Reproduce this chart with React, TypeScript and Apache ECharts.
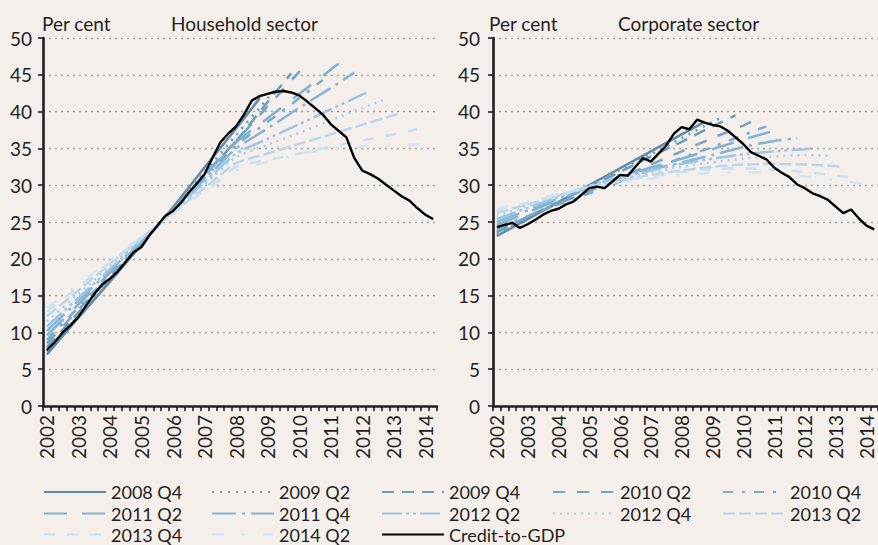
import React, { useEffect, useRef } from "react";
import * as echarts from "echarts";

// ---------- categories ----------
const quarters: string[] = [];
for (let y = 2002; y <= 2014; y++) {
  for (let q = 1; q <= 4; q++) {
    if (quarters.length < 50) quarters.push(`${y} Q${q}`);
  }
}

// ---------- vintages (trend estimates) ----------
const vintageNames = [
  "2008 Q4", "2009 Q2", "2009 Q4", "2010 Q2", "2010 Q4", "2011 Q2",
  "2011 Q4", "2012 Q2", "2012 Q4", "2013 Q2", "2013 Q4", "2014 Q2",
];
const vintageColors = [
  "#5E8CA8", "#6A99B8", "#6C9CBC", "#74A5C7", "#79AACB", "#7FB1D4",
  "#84B5D8", "#9CC5E2", "#AACFE8", "#B8D7EC", "#C8E0F0", "#D2E5F2",
];
const vintageDashes: (string | number[])[] = [
  "solid", [2, 6], [12, 8], [12, 12], [10, 9, 3, 9], [23, 15],
  [24, 6, 3, 6], [20, 4, 3, 4, 3, 4], [2, 5], [12, 4], [11, 12], [12, 18, 3, 18],
];

// Household sector: values at Q1 of each year from 2002, last value at the vintage quarter
const hh2008Q4 = [7.0, 12.0, 16.9, 21.9, 27.0, 32.4, 37.7, 41.8];
const hh2009Q2 = [7.4, 12.3, 17.1, 22.0, 26.9, 31.8, 36.8, 41.8, 43.0];
const hh2009Q4 = [8.0, 12.7, 17.4, 22.1, 26.7, 31.4, 36.0, 41.3, 45.2];
const hh2010Q2 = [8.5, 13.1, 17.6, 22.2, 26.7, 31.4, 36.0, 40.7, 45.4, 46.6];
const hh2010Q4 = [9.0, 13.4, 17.8, 22.2, 26.6, 31.0, 35.4, 38.6, 41.8, 44.3];
const hh2011Q2 = [9.6, 13.8, 18.1, 22.3, 26.7, 31.3, 35.8, 39.1, 42.4, 45.7, 46.5];
const hh2011Q4 = [10.2, 14.3, 18.4, 22.4, 26.6, 30.8, 35.0, 37.7, 40.5, 43.2, 45.3];
const hh2012Q2 = [10.8, 14.7, 18.6, 22.6, 26.5, 30.4, 34.3, 36.3, 38.3, 40.3, 42.3, 42.8];
const hh2012Q4 = [11.5, 15.2, 19.0, 22.7, 26.4, 30.1, 33.8, 35.5, 37.1, 38.8, 40.5, 41.7];
const hh2013Q2 = [12.2, 15.7, 19.3, 22.8, 26.3, 29.6, 33.0, 34.3, 35.6, 36.9, 38.2, 39.5, 39.8];
const hh2013Q4 = [12.8, 16.2, 19.5, 22.9, 26.2, 29.3, 32.5, 33.4, 34.3, 35.2, 36.1, 36.9, 37.6];
const hh2014Q2 = [13.3, 16.5, 19.8, 23.0, 26.1, 29.1, 32.0, 33.2, 34.2, 34.9, 35.3, 35.5, 35.5, 35.5];

// Corporate sector
const co2008Q4 = [23.1, 25.4, 27.7, 30.0, 32.3, 34.6, 36.9, 38.6];
const co2009Q2 = [23.4, 25.6, 27.7, 29.9, 32.1, 34.2, 36.4, 38.6, 39.1];
const co2009Q4 = [23.6, 25.7, 27.7, 29.8, 31.8, 33.9, 35.9, 38.0, 39.5];
const co2010Q2 = [23.9, 25.7, 27.5, 29.2, 31.0, 32.8, 34.6, 36.4, 38.1, 38.6];
const co2010Q4 = [24.2, 25.8, 27.4, 28.9, 30.5, 32.1, 33.7, 35.2, 36.8, 38.0];
const co2011Q2 = [24.6, 26.3, 28.0, 29.8, 31.1, 32.4, 33.6, 34.9, 36.2, 37.4, 37.7];
const co2011Q4 = [25.0, 26.6, 28.2, 29.8, 31.0, 32.1, 33.1, 34.1, 35.2, 36.0, 36.4];
const co2012Q2 = [25.4, 26.9, 28.4, 29.9, 31.0, 32.0, 32.9, 33.6, 34.2, 34.6, 34.9, 35.0];
const co2012Q4 = [25.8, 27.2, 28.6, 29.9, 30.8, 31.7, 32.5, 33.1, 33.6, 33.9, 34.1, 34.0];
const co2013Q2 = [26.2, 27.4, 28.6, 29.8, 30.6, 31.4, 32.0, 32.5, 32.8, 32.9, 32.8, 32.6, 32.5];
const co2013Q4 = [26.5, 27.6, 28.7, 29.7, 30.5, 31.2, 31.8, 32.2, 32.3, 32.1, 31.8, 31.3, 31.0];
const co2014Q2 = [26.8, 27.8, 28.8, 29.6, 30.3, 30.9, 31.4, 31.7, 31.8, 31.6, 31.2, 30.7, 30.1, 30.0];

// Credit-to-GDP ratios (quarterly, 2002 Q1 - 2014 Q2)
const hhCredit = [
  7.6, 8.7, 10.0, 11.0, 12.1, 13.7, 15.2, 16.5, 17.3, 18.3,
  19.6, 20.9, 21.6, 23.2, 24.5, 25.8, 26.5, 27.6, 29.0, 30.2,
  31.5, 33.7, 35.8, 37.0, 38.0, 39.6, 41.5, 42.1, 42.4, 42.7,
  42.8, 42.6, 42.2, 41.4, 40.5, 39.6, 38.3, 37.4, 36.5, 33.7,
  32.0, 31.5, 30.9, 30.1, 29.3, 28.5, 27.9, 26.9, 26.0, 25.4,
];
const coCredit = [
  24.3, 24.6, 24.9, 24.2, 24.7, 25.3, 26.0, 26.5, 26.8, 27.4,
  27.8, 28.7, 29.6, 29.8, 29.6, 30.5, 31.4, 31.3, 32.5, 33.7,
  33.2, 34.3, 35.4, 37.0, 37.9, 37.6, 38.9, 38.5, 38.2, 38.0,
  37.4, 36.5, 35.6, 34.5, 34.0, 33.5, 32.4, 31.7, 31.1, 30.1,
  29.6, 28.9, 28.5, 28.0, 27.1, 26.2, 26.7, 25.5, 24.5, 24.0,
];

const hhVintages = [hh2008Q4, hh2009Q2, hh2009Q4, hh2010Q2, hh2010Q4, hh2011Q2, hh2011Q4, hh2012Q2, hh2012Q4, hh2013Q2, hh2013Q4, hh2014Q2];
const coVintages = [co2008Q4, co2009Q2, co2009Q4, co2010Q2, co2010Q4, co2011Q2, co2011Q4, co2012Q2, co2012Q4, co2013Q2, co2013Q4, co2014Q2];

const panelTitles = ["Household sector", "Corporate sector"];
const yTicks = [0, 50, 5];
const legendRows = [
  ["2008 Q4", "2009 Q2", "2009 Q4", "2010 Q2", "2010 Q4"],
  ["2011 Q2", "2011 Q4", "2012 Q2", "2012 Q4", "2013 Q2"],
  ["2013 Q4", "2014 Q2", "Credit-to-GDP"],
];

const ink = "#231F20";
const font = "Lato, 'Open Sans', sans-serif";

function toPoints(vals: number[], vintage: string) {
  const pts: [number, number][] = vals.slice(0, -1).map((v, k) => [k * 4, v]);
  pts.push([quarters.indexOf(vintage), vals[vals.length - 1]]);
  return pts;
}

export default function App() {
  const ref = useRef<HTMLDivElement>(null);

  useEffect(() => {
    if (!ref.current) return;
    const chart = echarts.init(ref.current, undefined, { renderer: "svg" });

    const grids = [
      { left: 43, top: 38, width: 394, height: 368 },
      { left: 493, top: 38, width: 394, height: 368 },
    ];
    const labelMargins = [11, 13];

    const series: any[] = [];
    [hhVintages, coVintages].forEach((set, p) => {
      set.forEach((vals, k) => {
        series.push({
          type: "line",
          name: vintageNames[k],
          xAxisIndex: p,
          yAxisIndex: p,
          data: toPoints(vals, vintageNames[k]),
          symbol: "none",
          smooth: 0.2,
          itemStyle: { color: vintageColors[k] },
          lineStyle: { color: vintageColors[k], width: 2.5, type: vintageDashes[k], cap: "butt" },
          z: 2,
        });
      });
      series.push({
        type: "line",
        name: "Credit-to-GDP",
        xAxisIndex: p,
        yAxisIndex: p,
        data: (p === 0 ? hhCredit : coCredit).map((v, i) => [i, v]),
        symbol: "none",
        itemStyle: { color: "#000000" },
        lineStyle: { color: "#000000", width: 2.4 },
        z: 3,
      });
    });

    const colLeft = [43, 211, 381, 552, 722];
    const rowMid = [492, 513.5, 534.5];
    const legends: any[] = [];
    legendRows.forEach((row, r) =>
      row.forEach((name, c) => {
        legends.push({
          data: [name],
          left: colLeft[c],
          top: rowMid[r] - 10,
          itemWidth: 62,
          itemHeight: 20,
          padding: 0,
          selectedMode: false,
          itemStyle: { opacity: 0 },
          textStyle: { fontSize: 18, color: ink, fontFamily: font, lineHeight: 20 },
        });
      })
    );

    const graphic: any[] = [];
    grids.forEach((g, p) => {
      graphic.push({
        type: "text",
        x: g.left - 1 + (p === 1 ? -3 : 0),
        y: 23,
        style: { text: "Per cent", fontSize: 19, fontFamily: font, fill: ink, verticalAlign: "middle" },
      });
      graphic.push({
        type: "text",
        x: p === 0 ? 171 : 618,
        y: 23,
        style: { text: panelTitles[p], fontSize: 19, fontFamily: font, fill: ink, verticalAlign: "middle" },
      });
    });

    chart.setOption({
      animation: false,
      backgroundColor: "#F5EFEC",
      textStyle: { fontFamily: font },
      grid: grids,
      legend: legends,
      graphic,
      xAxis: grids.map((_, i) => ({
        type: "category",
        gridIndex: i,
        data: quarters,
        boundaryGap: true,
        axisLine: { show: true, onZero: false, lineStyle: { color: ink, width: 2.6 } },
        axisTick: { show: true, interval: 0, length: 5, lineStyle: { color: ink, width: 1.6 } },
        axisLabel: {
          interval: 3,
          rotate: 90,
          margin: 9,
          fontSize: 19,
          color: ink,
          fontFamily: font,
          formatter: (v: string) => v.slice(0, 4),
        },
        splitLine: { show: false },
      })),
      yAxis: grids.map((_, i) => ({
        type: "value",
        gridIndex: i,
        min: yTicks[0],
        max: yTicks[1],
        interval: yTicks[2],
        axisLine: { show: true, lineStyle: { color: ink, width: 2.6 } },
        axisTick: { show: true, length: 5, lineStyle: { color: ink, width: 1.6 } },
        axisLabel: { fontSize: 19, color: ink, fontFamily: font, margin: labelMargins[i] },
        splitLine: { show: true, lineStyle: { color: "#9E9E9E", width: 1.3, type: [2, 4] } },
      })),
      series,
    });

    return () => chart.dispose();
  }, []);

  return (
    <div
      ref={ref}
      style={{ position: "absolute", left: 0, top: 0, width: "878px", height: "545px" }}
    />
  );
}
